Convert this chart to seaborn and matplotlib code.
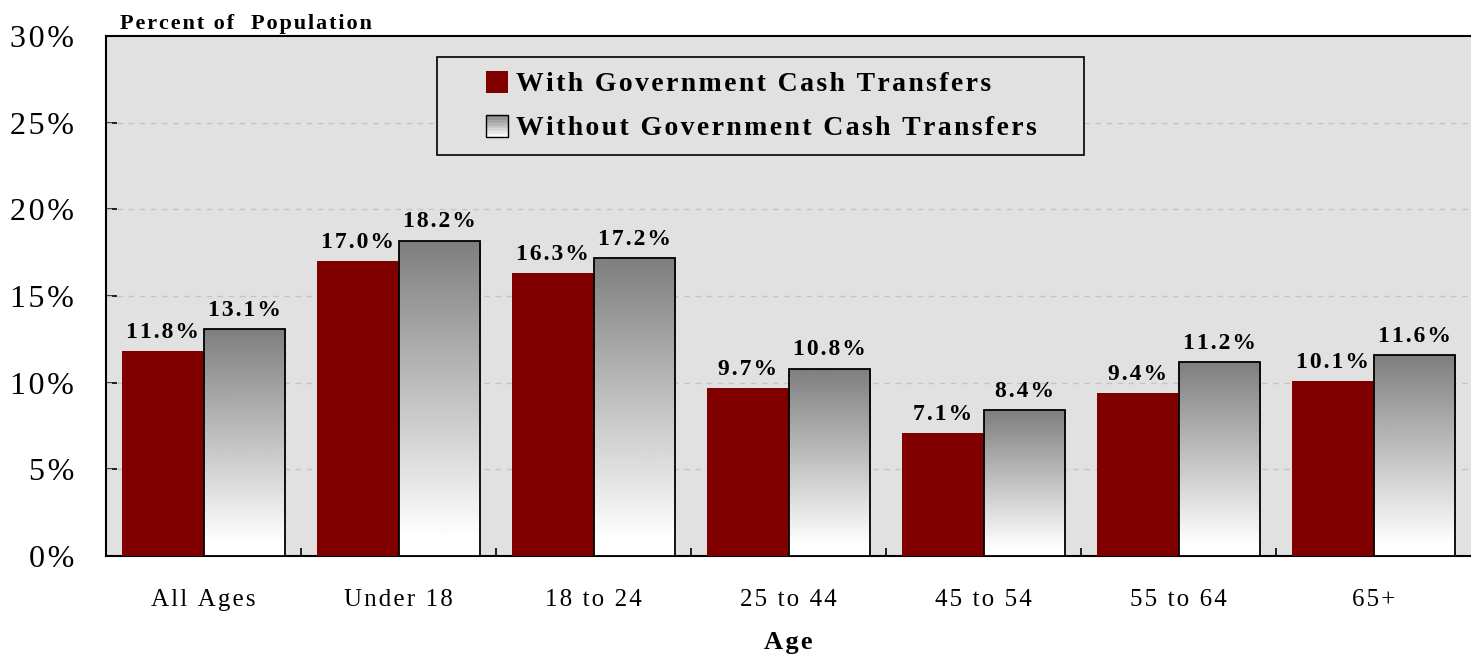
import numpy as np
import pandas as pd
import matplotlib
matplotlib.use('Agg')
import matplotlib.pyplot as plt
import seaborn as sns
from matplotlib.patches import Rectangle
from matplotlib.legend_handler import HandlerBase
from matplotlib.ticker import FixedLocator


ages = ['All Ages', 'Under 18', '18 to 24', '25 to 44', '45 to 54', '55 to 64', '65+']
with_transfers = [11.8, 17.0, 16.3, 9.7, 7.1, 9.4, 10.1]
without_transfers = [13.1, 18.2, 17.2, 10.8, 8.4, 11.2, 11.6]
series_names = ['With Government Cash Transfers', 'Without Government Cash Transfers']

RED = '#800000'
BG = '#e1e1e1'
HAIR = '\u200a'


def spaced(s):
    # the original has loose letter spacing; fake it with hair spaces
    return HAIR.join(s)


class GradientHandler(HandlerBase):
    # legend square drawn as stacked grey bands with a black edge
    def create_artists(self, legend, orig_handle, xdescent, ydescent,
                       width, height, fontsize, trans):
        side = min(width, height)
        x0 = xdescent + (width - side)
        y0 = -ydescent + (height - side) / 2
        n = 8
        arts = []
        for i in range(n):
            g = 0.5 + 0.5 * (1 - (i + 0.5) / n)
            r = Rectangle((x0, y0 + side * i / n), side, side / n,
                          facecolor=(g, g, g), edgecolor='none', transform=trans)
            arts.append(r)
        arts.append(Rectangle((x0, y0), side, side, facecolor='none',
                              edgecolor='black', lw=1.0, transform=trans))
        return arts


class SquareHandler(HandlerBase):
    def create_artists(self, legend, orig_handle, xdescent, ydescent,
                       width, height, fontsize, trans):
        side = min(width, height)
        x0 = xdescent + (width - side)
        y0 = -ydescent + (height - side) / 2
        return [Rectangle((x0, y0), side, side, facecolor=RED,
                          edgecolor='none', transform=trans)]


df = pd.DataFrame({
    'age': ages * 2,
    'value': with_transfers + without_transfers,
    'series': [series_names[0]] * len(ages) + [series_names[1]] * len(ages),
})

sns.set_style('white')
plt.rcParams['font.family'] = ['Liberation Serif', 'DejaVu Serif']
plt.rcParams['text.color'] = 'black'
plt.rcParams['xtick.color'] = 'black'
plt.rcParams['ytick.color'] = 'black'
plt.rcParams['axes.labelcolor'] = 'black'

fig = plt.figure(figsize=(14.71, 6.57), dpi=100)
ax = fig.add_axes([106 / 1471, 101 / 657, 1365 / 1471, 520 / 657])
ax.set_facecolor(BG)

sns.barplot(data=df, x='age', y='value', hue='series',
            palette={series_names[0]: RED, series_names[1]: 'white'},
            saturation=1, width=0.84, gap=0, ax=ax, legend=False, zorder=3)

# gradient fill for the "without" bars
grad = np.clip(np.linspace(0.48, 1.0, 256) * 1.03, 0, 1).reshape(-1, 1)
for patch in ax.containers[1]:
    x, y = patch.get_x(), patch.get_y()
    w, h = patch.get_width(), patch.get_height()
    patch.set_facecolor('none')
    patch.set_edgecolor('black')
    patch.set_linewidth(1.3)
    patch.set_zorder(4)
    im = ax.imshow(grad, cmap='gray', vmin=0, vmax=1, aspect='auto',
                   extent=(x, x + w, y, y + h), origin='upper', zorder=3.5,
                   interpolation='bilinear')
    im.set_clip_path(patch)

for patch in ax.containers[0]:
    patch.set_edgecolor('none')

for cont, vals in zip(ax.containers, [with_transfers, without_transfers]):
    ax.bar_label(cont, labels=[spaced(f'{v:.1f}%') for v in vals], padding=6,
                 fontsize=17, fontweight='bold', zorder=5)

ax.set_xlim(-0.5, len(ages) - 0.5)
ax.set_ylim(0, 30)
ax.set_yticks(np.arange(0, 31, 5))
ax.set_yticklabels([spaced(f'{v}%') for v in range(0, 31, 5)], fontsize=23)
ax.set_xticks(range(len(ages)))
ax.set_xticklabels([spaced(a) for a in ages])
ax.tick_params(axis='y', direction='in', length=8, width=1.2, pad=23, left=True)
ax.tick_params(axis='x', which='major', length=0, pad=24, labelsize=18)
ax.xaxis.set_minor_locator(FixedLocator(np.arange(0.5, len(ages) - 1, 1)))
ax.tick_params(axis='x', which='minor', direction='in', length=6, width=1.2, bottom=True)

for yv in range(5, 30, 5):
    ax.axhline(yv, color='#c4c4c4', lw=1, ls=(0, (4, 4)), zorder=1)

for side in ['left', 'bottom', 'top']:
    ax.spines[side].set_visible(True)
    ax.spines[side].set_color('black')
    ax.spines[side].set_linewidth(1.5)
ax.spines['right'].set_visible(False)

ax.set_xlabel(spaced('Age'), fontsize=19, fontweight='bold', labelpad=14)
ax.set_ylabel('')
ax.text(0.01, 1.003, spaced('Percent of  Population'), transform=ax.transAxes,
        fontsize=16, fontweight='bold', ha='left', va='bottom')

h1 = Rectangle((0, 0), 1, 1)
h2 = Rectangle((0, 0), 1, 1)
leg = ax.legend([h1, h2], [spaced(s) for s in series_names], loc='upper left',
                bbox_to_anchor=(0.2425, 0.773, 0.474, 0.187), mode='expand',
                frameon=True, fancybox=False,
                handler_map={h1: SquareHandler(), h2: GradientHandler()},
                prop={'size': 20, 'weight': 'bold'}, handlelength=2.05,
                handleheight=0.85, handletextpad=0.3, borderpad=0.5,
                labelspacing=0.62, borderaxespad=0)
leg.get_frame().set_edgecolor('black')
leg.get_frame().set_facecolor(BG)
leg.get_frame().set_linewidth(1.2)
leg.get_frame().set_alpha(1)
leg.set_zorder(6)

fig.savefig('out.png', dpi=100)
